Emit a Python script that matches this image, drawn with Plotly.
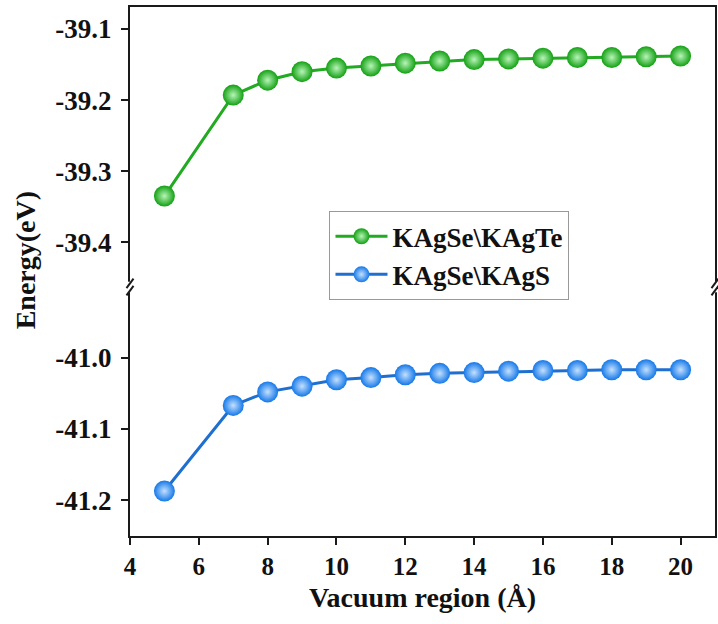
import plotly.graph_objects as go

vacuum = [5, 7, 8, 9, 10, 11, 12, 13, 14, 15, 16, 17, 18, 19, 20]
e_te = [-39.335, -39.193, -39.172, -39.160, -39.155, -39.152, -39.148, -39.145,
        -39.143, -39.142, -39.141, -39.140, -39.140, -39.139, -39.138]
e_s = [-41.187, -41.067, -41.048, -41.040, -41.031, -41.028, -41.024, -41.022,
       -41.021, -41.019, -41.018, -41.018, -41.017, -41.017, -41.017]
top_ticks = [-39.1, -39.2, -39.3, -39.4]
bot_ticks = [-41.0, -41.1, -41.2]
x_ticks = [4, 6, 8, 10, 12, 14, 16, 18, 20]
name_te = "KAgSe\\KAgTe"
name_s = "KAgSe\\KAgS"

FONT = "Liberation Serif, Times New Roman, serif"
AX = "#1a1a1a"

fig = go.Figure()
fig.add_trace(go.Scatter(
    x=vacuum, y=e_te, name=name_te, xaxis="x2", yaxis="y2", mode="lines+markers",
    line=dict(color="#22aa22", width=3),
    marker=dict(size=21, color="#12a012", gradient=dict(type="radial", color="#b8f5b8"),
                line=dict(width=0)),
))
fig.add_trace(go.Scatter(
    x=vacuum, y=e_s, name=name_s, xaxis="x", yaxis="y", mode="lines+markers",
    line=dict(color="#1f6fd0", width=3),
    marker=dict(size=21, color="#1478e8", gradient=dict(type="radial", color="#c4e0ff"),
                line=dict(width=0)),
))

split = 1 - 280 / 529

axis_common = dict(showline=True, linecolor=AX, linewidth=2, ticks="outside",
                   ticklen=7, tickwidth=2, tickcolor=AX, showgrid=False, zeroline=False)
yfont = dict(family=FONT, size=27, color="#111", weight="bold")
xfont = dict(family=FONT, size=25, color="#111", weight="bold")

fig.update_layout(
    width=718, height=624,
    margin=dict(l=130, r=1, t=7, b=88),
    plot_bgcolor="white", paper_bgcolor="white",
    showlegend=True,
    legend=dict(x=0.341, y=0.614, xanchor="left", yanchor="top",
                bgcolor="white", bordercolor="#999", borderwidth=1,
                font=dict(family=FONT, size=27, color="#111", weight="bold"),
                itemsizing="trace", itemwidth=52, tracegroupgap=0),
    xaxis=dict(range=[4, 21], tickvals=x_ticks, ticktext=[str(v) for v in x_ticks],
               anchor="y", mirror=False, tickfont=xfont,
               title=dict(text="Vacuum region (Å)", standoff=8,
                          font=dict(family=FONT, size=28, color="#111", weight="bold")),
               **axis_common),
    xaxis2=dict(range=[4, 21], matches="x", anchor="y2", side="top", showline=True,
                linecolor=AX, linewidth=2, showticklabels=False, ticks="",
                showgrid=False, zeroline=False),
    yaxis=dict(domain=[0, split], range=[-41.25, -40.901], anchor="x", mirror=True,
               tickvals=bot_ticks, ticktext=["-%.1f" % abs(v) for v in bot_ticks],
               tickfont=yfont, ticklabelstandoff=4, **axis_common),
    yaxis2=dict(domain=[split, 1], range=[-39.463, -39.069], anchor="x2", mirror=True,
                tickvals=top_ticks, ticktext=["-%.1f" % abs(v) for v in top_ticks],
                tickfont=yfont, ticklabelstandoff=4, **axis_common),
    annotations=[dict(text="Energy(eV)", xref="paper", yref="paper",
                      x=(25 - 130) / 587, y=(536 - 260) / 529, xanchor="center",
                      yanchor="middle", textangle=-90, showarrow=False,
                      font=dict(family=FONT, size=28, color="#111", weight="bold"))],
)

# axis break marks
shapes = []
for xp in (0, 1):
    shapes.append(dict(type="rect", xref="paper", yref="paper",
                       x0=xp - 0.004, x1=xp + 0.004, y0=split - 0.010, y1=split + 0.010,
                       fillcolor="white", line=dict(width=0), layer="above"))
    for dy in (-0.010, 0.004):
        shapes.append(dict(type="line", xref="paper", yref="paper",
                           x0=xp - 0.006, x1=xp + 0.006, y0=split + dy - 0.006,
                           y1=split + dy + 0.012,
                           line=dict(color=AX, width=2), layer="above"))
fig.update_layout(shapes=shapes)

fig.write_html("out.html")
